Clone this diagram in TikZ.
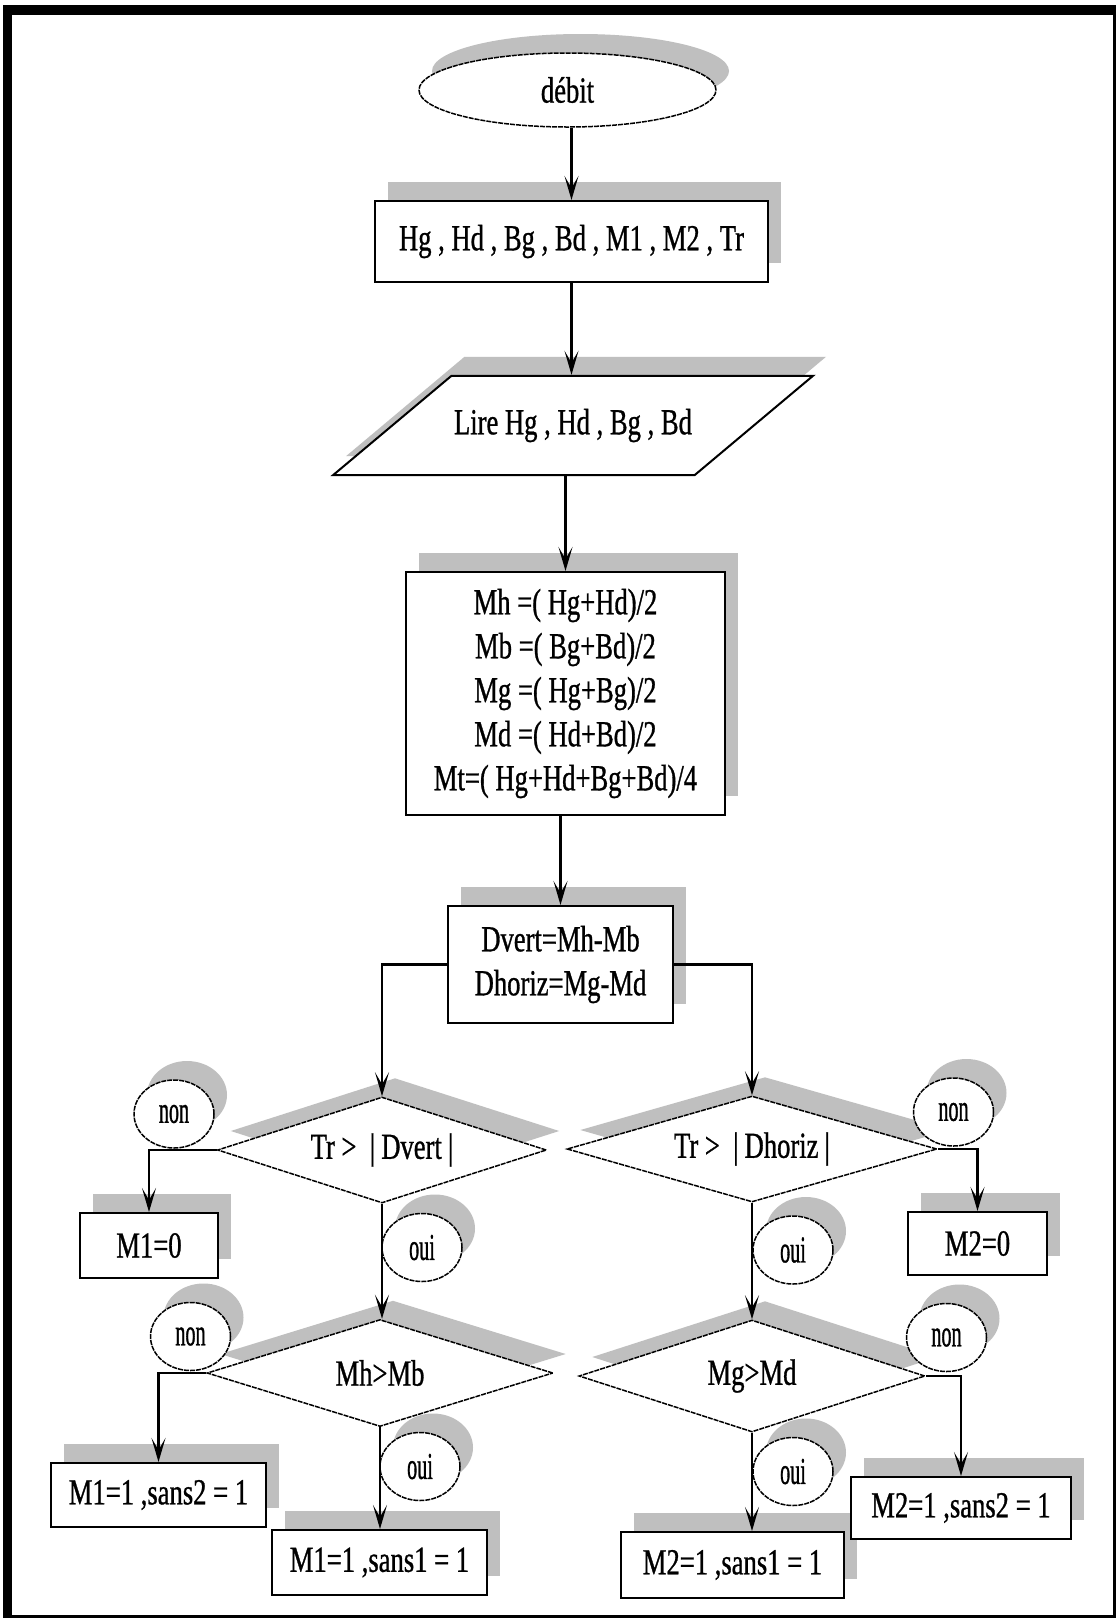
\documentclass[tikz,border=0pt]{standalone}
\usepackage{fontspec}
\setmainfont{Liberation Serif}[FakeStretch=0.725, FakeBold=0.8]
\newfontfamily\lblfont{Liberation Serif}[FakeStretch=0.53, FakeBold=0.8]
\usetikzlibrary{arrows.meta,shapes.geometric,shadows}
\definecolor{shadegray}{RGB}{191,191,191}

\begin{document}
\begin{tikzpicture}[x=1pt, y=-1pt,
    >={Stealth[length=24pt,width=14pt,inset=12pt]},
    boxshadow/.style={drop shadow={shadow xshift=13pt, shadow yshift=19pt, fill=shadegray, opacity=1}},
    txt/.style={font=\fontsize{36.7pt}{44pt}\selectfont},
    box/.style={draw, line width=2pt, fill=white, boxshadow, txt, inner sep=0pt},
    test/.style={diamond, draw, line width=1.5pt, dash pattern=on 5pt off 1pt, fill=white,
        boxshadow, txt, aspect=3.5, inner sep=0pt},
    answer/.style={ellipse, draw, line width=1.5pt, dash pattern=on 5pt off 1pt, fill=white,
        boxshadow, font=\lblfont\fontsize{38pt}{44pt}\selectfont,
        minimum width=80pt, minimum height=68pt, inner sep=0pt},
    flow/.style={->, line width=2.2pt}]

    % page frame
    \useasboundingbox (0,0) rectangle (1118,1618);
    \fill[black] (3,5) rectangle (1116,1618);
    \fill[white] (12,15) rectangle (1113,1615);

    % start and inputs
    \node[ellipse, draw, line width=1.5pt, dash pattern=on 5pt off 1pt, fill=white, boxshadow, txt,
        minimum width=297pt, minimum height=74pt] (debit) at (567.5,90) {débit};
    \node[box, minimum width=393pt, minimum height=81pt] (vars) at (571.5,241.5)
        {Hg , Hd , Bg , Bd , M1 , M2 , Tr};
    \node[trapezium, trapezium left angle=40, trapezium right angle=140, trapezium stretches body,
        draw, line width=2pt, fill=white, boxshadow, txt, inner xsep=0pt, inner ysep=33pt,
        minimum width=480pt, minimum height=99pt] (lire) at (573,425.5) {Lire Hg , Hd , Bg , Bd};

    % averages and differences
    \node[box, align=center, minimum width=319pt, minimum height=243pt] (calc) at (565.5,693.5)
        {Mh =( Hg+Hd)/2\\ Mb =( Bg+Bd)/2\\ Mg =( Hg+Bg)/2\\ Md =( Hd+Bd)/2\\ Mt=( Hg+Hd+Bg+Bd)/4};
    \node[box, align=center, minimum width=225pt, minimum height=117pt] (diff) at (560.5,964.5)
        {Dvert=Mh-Mb\\ Dhoriz=Mg-Md};

    % tests
    \node[test, minimum width=329pt, minimum height=106pt] (testv) at (382,1150) {Tr > \ |\,Dvert\,|};
    \node[test, minimum width=370pt, minimum height=106pt] (testh) at (752,1149) {Tr > \ |\,Dhoriz\,|};
    \node[test, minimum width=346pt, minimum height=107pt] (cmpv) at (380,1373) {Mh>Mb};
    \node[test, minimum width=346pt, minimum height=112pt] (cmph) at (752,1376) {Mg>Md};

    % results
    \node[box, minimum width=138pt, minimum height=65pt] (m1zero) at (149,1245.5) {M1=0};
    \node[box, minimum width=139pt, minimum height=63pt] (m2zero) at (977.5,1243.5) {M2=0};
    \node[box, minimum width=215pt, minimum height=64pt] (m1s2) at (158.5,1495) {M1=1 ,sans2 = 1};
    \node[box, minimum width=215pt, minimum height=65pt] (m1s1) at (379.5,1562.5) {M1=1 ,sans1 = 1};
    \node[box, minimum width=223pt, minimum height=66pt] (m2s1) at (732.5,1565) {M2=1 ,sans1 = 1};
    \node[box, minimum width=220pt, minimum height=62pt] (m2s2) at (961,1508) {M2=1 ,sans2 = 1};

    % yes / no tags
    \node[answer] (non1) at (174,1114) {non};
    \node[answer] (oui1) at (422,1247.5) {oui};
    \node[answer] (non2) at (190.5,1336.5) {non};
    \node[answer] (oui2) at (420,1466.5) {oui};
    \node[answer] (non3) at (953.5,1112) {non};
    \node[answer] (oui3) at (793,1250) {oui};
    \node[answer] (non4) at (946.5,1337.5) {non};
    \node[answer] (oui4) at (793,1471.5) {oui};

    % flow arrows
    \draw[flow] (vars.north |- debit.south) -- (vars.north);
    \draw[flow] (vars.south) -- (vars.south |- lire.north);
    \draw[flow] (lire.south -| calc.north) -- (calc.north);
    \draw[flow] (calc.south -| diff.north) -- (diff.north);
    \draw[flow] (diff.west) -| (testv.north);
    \draw[flow] (diff.east) -| (testh.north);
    \draw[flow] (testv.west) -| (m1zero.north);
    \draw[flow] (testv.south) -- (testv.south |- cmpv.north);
    \draw[flow] (cmpv.west) -| (m1s2.north);
    \draw[flow] (cmpv.south) -- (cmpv.south |- m1s1.north);
    \draw[flow] (testh.east) -| (m2zero.north);
    \draw[flow] (testh.south) -- (cmph.north);
    \draw[flow] (cmph.east) -| (m2s2.north);
    \draw[flow] (cmph.south) -- (cmph.south |- m2s1.north);
\end{tikzpicture}
\end{document}
